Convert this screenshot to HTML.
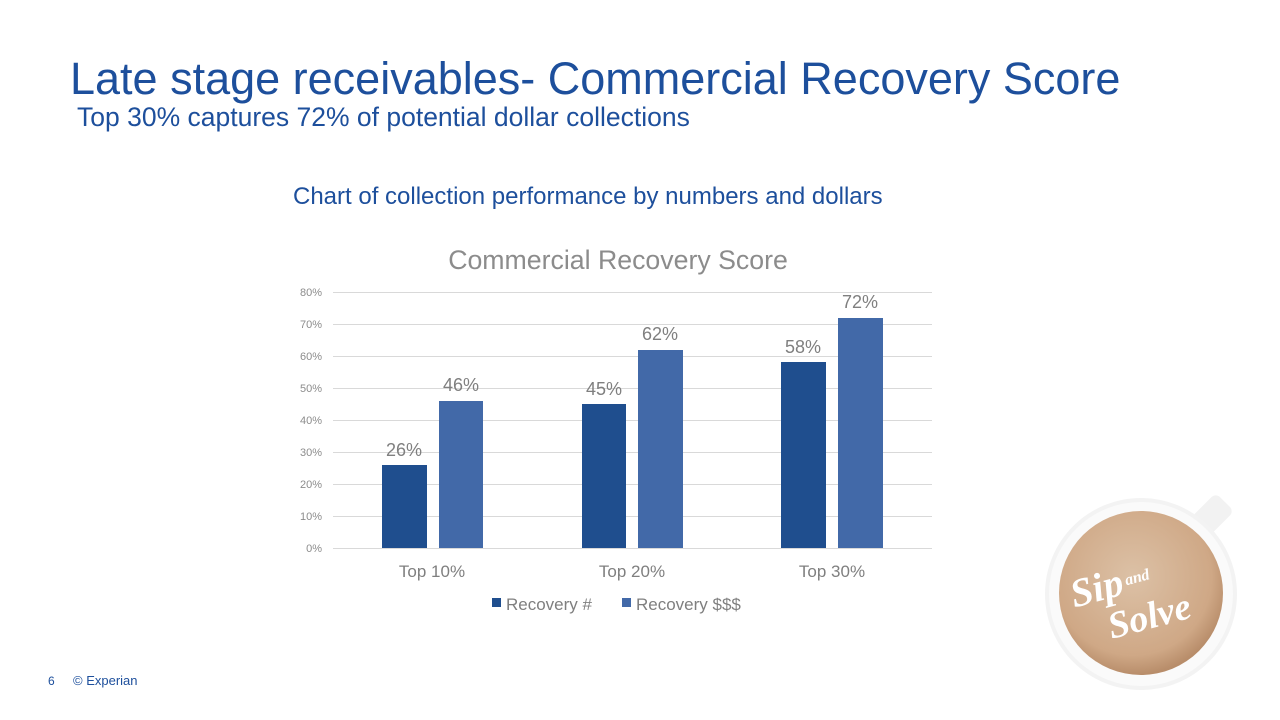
<!DOCTYPE html>
<html><head><meta charset="utf-8"><style>
body{margin:0;width:1280px;height:720px;background:#fff;position:relative;overflow:hidden;font-family:"Liberation Sans",Arial,sans-serif}
.t{position:absolute;white-space:nowrap}
</style></head><body>
<div class="t" style="left:70px;top:53px;font-size:45px;color:#1d4f9c">Late stage receivables- Commercial Recovery Score</div>
<div class="t" style="left:77px;top:102px;font-size:26.5px;color:#1d4f9c">Top 30% captures 72% of potential dollar collections</div>
<div class="t" style="left:293px;top:183px;font-size:24px;color:#1d4f9c">Chart of collection performance by numbers and dollars</div>
<svg width="1280" height="720" style="position:absolute;left:0;top:0" font-family="Liberation Sans, Arial, sans-serif">
<text x="618" y="269" font-size="26.7" fill="#8c8c8c" text-anchor="middle">Commercial Recovery Score</text>
<g stroke="#d9d9d9" stroke-width="1">
<line x1="333" x2="932" y1="292.5" y2="292.5"/><line x1="333" x2="932" y1="324.5" y2="324.5"/>
<line x1="333" x2="932" y1="356.5" y2="356.5"/><line x1="333" x2="932" y1="388.5" y2="388.5"/>
<line x1="333" x2="932" y1="420.5" y2="420.5"/><line x1="333" x2="932" y1="452.5" y2="452.5"/>
<line x1="333" x2="932" y1="484.5" y2="484.5"/><line x1="333" x2="932" y1="516.5" y2="516.5"/>
<line x1="333" x2="932" y1="548.5" y2="548.5"/></g>
<g font-size="11" fill="#8c8c8c" text-anchor="end">
<text x="322" y="296">80%</text><text x="322" y="328">70%</text><text x="322" y="360">60%</text>
<text x="322" y="392">50%</text><text x="322" y="424">40%</text><text x="322" y="456">30%</text>
<text x="322" y="488">20%</text><text x="322" y="520">10%</text><text x="322" y="552">0%</text></g>
<g fill="#1f4e8e"><rect x="382" y="465" width="45" height="83"/><rect x="582" y="404" width="44" height="144"/><rect x="781" y="362" width="45" height="186"/></g>
<g fill="#4269a8"><rect x="439" y="401" width="44" height="147"/><rect x="638" y="350" width="45" height="198"/><rect x="838" y="318" width="45" height="230"/></g>
<g font-size="18" fill="#7f7f7f" text-anchor="middle">
<text x="404" y="456">26%</text><text x="461" y="391">46%</text>
<text x="604" y="395">45%</text><text x="660" y="340">62%</text>
<text x="803" y="353">58%</text><text x="860" y="308">72%</text></g>
<g font-size="17" fill="#7f7f7f" text-anchor="middle">
<text x="432" y="577">Top 10%</text><text x="632" y="577">Top 20%</text><text x="832" y="577">Top 30%</text></g>
<rect x="492" y="598" width="9" height="9" fill="#1f4e8e"/>
<text x="506" y="610" font-size="17" fill="#7f7f7f">Recovery #</text>
<rect x="622" y="598" width="9" height="9" fill="#4269a8"/>
<text x="636" y="610" font-size="17" fill="#7f7f7f">Recovery $$$</text>
<text x="48" y="685" font-size="12" fill="#1d4f9c">6</text>
<text x="73" y="685" font-size="13" fill="#1d4f9c">© Experian</text>
<rect x="1195" y="495" width="26" height="48" rx="6" fill="#f2f2f2" transform="rotate(45 1208 519)"/>
<circle cx="1141" cy="594" r="96" fill="#f3f3f3"/>
<circle cx="1141" cy="594" r="92" fill="#fafafa"/>
<defs><radialGradient id="g" cx="0.45" cy="0.4" r="0.6"><stop offset="0" stop-color="#dcc1a6"/><stop offset="0.8" stop-color="#cfa886"/><stop offset="1" stop-color="#b88d6a"/></radialGradient></defs>
<circle cx="1141" cy="593" r="82" fill="url(#g)"/>
<g fill="#fff" font-family="Liberation Serif, serif" font-style="italic" font-weight="bold" transform="rotate(-15 1140 590)">
<text x="1072" y="590" font-size="40">Sip</text><text x="1128" y="582" font-size="16">and</text>
<text x="1100" y="630" font-size="38">Solve</text></g>
</svg>
</body></html>
